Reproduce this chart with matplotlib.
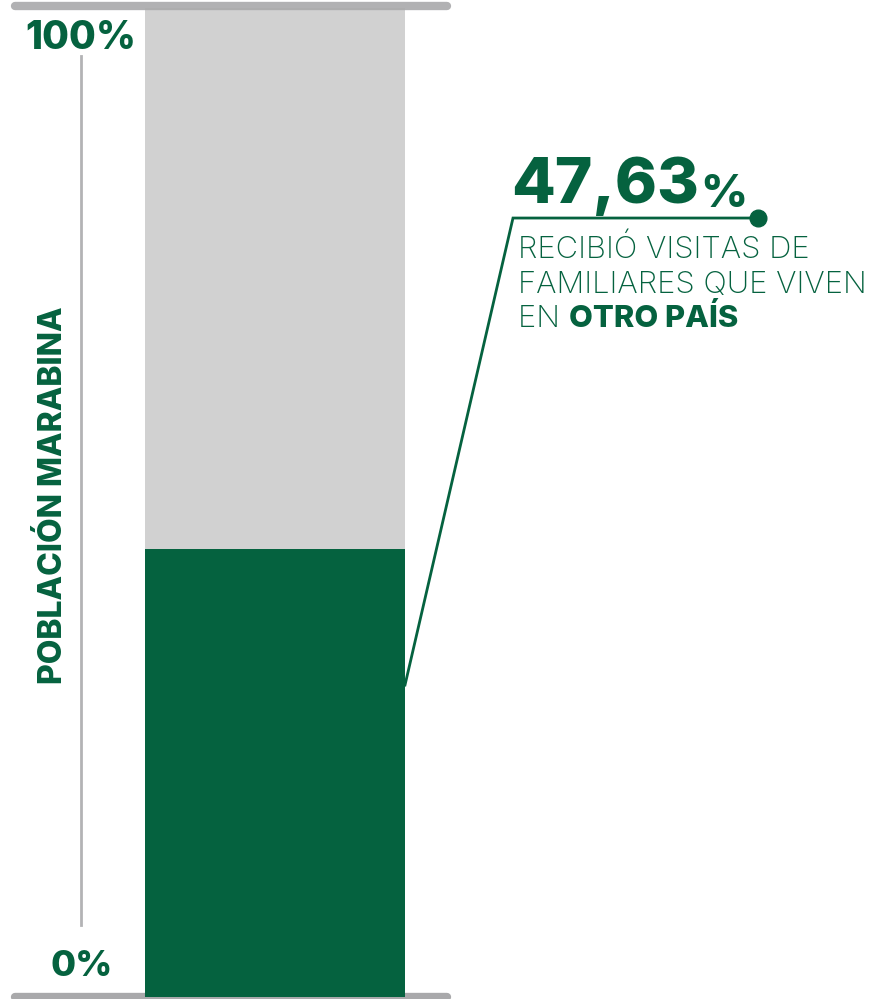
import matplotlib.pyplot as plt

# data
categoria = 'POBLACIÓN MARABINA'
valor = 47.63
etiqueta_valor = '47,63'
lineas_texto = ['RECIBIÓ VISITAS DE', 'FAMILIARES QUE VIVEN', 'EN ']
texto_bold = 'OTRO PAÍS'
ticks = [0, 100]
tick_labels = ['0%', '100%']

verde = '#05623f'
gris_bar = '#d1d1d1'
gris_linea = '#a9a9ab'

fig = plt.figure(figsize=(8.74, 9.99), dpi=100)
ax = fig.add_axes([0, 0, 1, 1])
ax.set_xlim(0, 874)
# y in percent; 0% sits at the bottom rule, scale
ax.set_ylim(-0.21, 106.0)
ax.axis('off')

top = 105.2
# background (remaining share) and main bar
ax.bar(275, top - valor, bottom=valor, width=260, color=gris_bar, zorder=1)
ax.bar(275, valor, width=260, color=verde, zorder=3)

# top and bottom rules
ax.plot([15, 447], [105.36, 105.36], color=gris_linea, lw=6, solid_capstyle='round', zorder=2, alpha=0.9)
ax.plot([15, 447], [0, 0], color=gris_linea, lw=6, solid_capstyle='round', zorder=2)

# vertical scale line and tick labels
ax.plot([81, 81], [7.7, 100.0], color='#b3b3b5', lw=2, zorder=2)
fb = ['Inter', 'DejaVu Sans']
ax.text(81, 101.9, tick_labels[1], ha='center', va='center', fontsize=28,
        fontweight='heavy', color=verde, family=fb)
ax.text(82, 3.2, tick_labels[0], ha='center', va='center', fontsize=26,
        fontweight='heavy', color=verde, family=fb)

ax.text(54, 53.4, categoria, rotation=90, ha='center', va='center', fontsize=23,
        fontweight='heavy', color=verde, family=fb)

# leader line from bar edge to the label
y_lead = (997 - 218) / 9.406
y_bar = (997 - 685) / 9.406
ax.plot([405, 513, 758], [y_bar, y_lead, y_lead], color=verde, lw=2, zorder=4,
        solid_joinstyle='miter')
ax.plot([758], [y_lead], 'o', ms=12, color=verde, zorder=5)

t = ax.text(511, (997 - 203) / 9.406, etiqueta_valor, ha='left', va='baseline',
            fontsize=46, fontweight='heavy', color=verde, family=fb)
ax.annotate('%', xy=(1, 0), xycoords=t, xytext=(1, 0), textcoords='offset points',
            ha='left', va='bottom', fontsize=33, fontweight='heavy', color=verde, family=fb)

ys = [(997 - 258) / 9.406, (997 - 293) / 9.406, (997 - 327) / 9.406]
for txt, y in zip(lineas_texto, ys):
    last = ax.text(518, y, txt, ha='left', va='baseline', fontsize=22.3,
                   fontweight='light', color=verde, family=fb)
ax.annotate(texto_bold, xy=(1, 0), xycoords=last, xytext=(0, 0), textcoords='offset points',
            ha='left', va='bottom', fontsize=22.3, fontweight='heavy', color=verde, family=fb)

fig.savefig('out.png', dpi=100)
